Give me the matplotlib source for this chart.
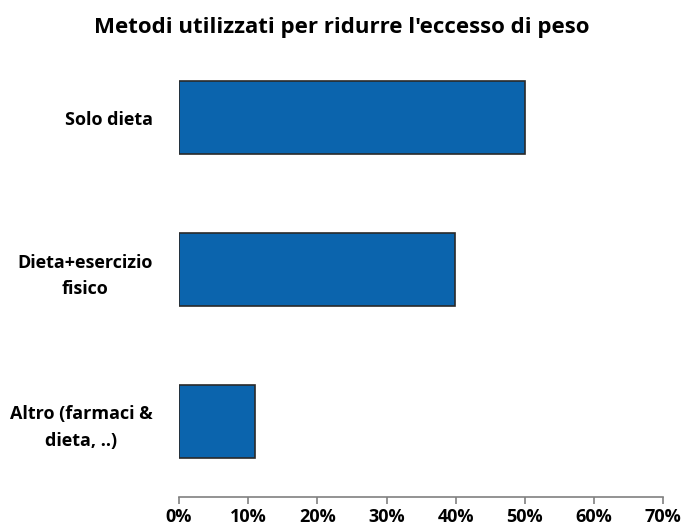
import matplotlib.pyplot as plt
from matplotlib.ticker import PercentFormatter

categories = ["Solo dieta", "Dieta+esercizio\nfisico", "Altro (farmaci &\ndieta, ..)"]
values = [50.0, 39.9, 11.0]
xticks = [0, 10, 20, 30, 40, 50, 60, 70]

plt.rcParams['font.family'] = ['Open Sans', 'DejaVu Sans']
plt.rcParams['font.weight'] = 'bold'

fig = plt.figure(figsize=(6.91, 5.31), dpi=100)
ax = fig.add_axes([179/691, 1 - 497/531, (663.3 - 179)/691, (497 - 42)/531])

ypos = list(range(len(categories)))[::-1]
ax.barh(ypos, values, height=0.48, color='#0b64ad', edgecolor='#2a2a2a', linewidth=1.2)

ax.set_xlim(0, 70)
ax.set_ylim(-0.5, 2.5)
ax.set_xticks(xticks)
ax.xaxis.set_major_formatter(PercentFormatter(decimals=0))
ax.set_yticks(ypos)
ax.set_yticklabels(categories, ha='right', multialignment='center',
                   fontsize=13, fontweight='bold', linespacing=1.6)
ax.tick_params(axis='y', length=0, pad=19)
ax.tick_params(axis='x', length=5, width=1.2, color='#808080', labelsize=13, pad=3)
for lbl in ax.get_xticklabels():
    lbl.set_fontweight('bold')

for s in ['left', 'right', 'top']:
    ax.spines[s].set_visible(False)
ax.spines['bottom'].set_color('#808080')
ax.spines['bottom'].set_linewidth(1.2)

fig.text(0.494, 1 - 28/531, "Metodi utilizzati per ridurre l'eccesso di peso",
         ha='center', va='center', fontsize=16, fontweight='bold')

fig.savefig('out.png', dpi=100)
